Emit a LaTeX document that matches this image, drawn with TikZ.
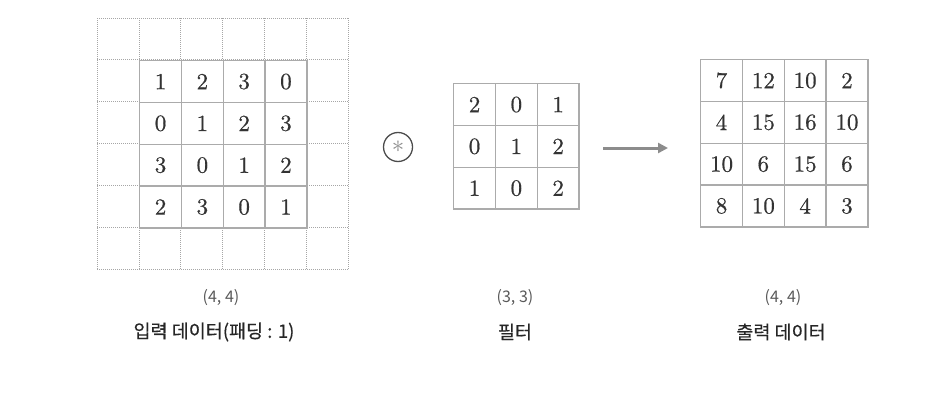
\documentclass[tikz,border=0pt]{standalone}
\usepackage{fontspec}
\newfontfamily\kr{Noto Sans CJK KR}
\newfontfamily\krb[FakeBold=0.5]{Noto Sans CJK KR}
\newfontfamily\numfont[FakeBold=0.6]{lmroman10-regular.otf}
\usetikzlibrary{arrows.meta}
\tikzset{
  cellbox/.style={draw=black!33, line width=1.3pt, minimum size=41.8pt, inner sep=0pt, anchor=north west, font=\numfont\fontsize{23}{23}\selectfont, text=black!80},
  padline/.style={draw=black!35, line width=1pt, dash pattern=on 1pt off 1pt},
  shapelbl/.style={font=\kr\fontsize{16}{16}\selectfont, text=black!65},
  namelbl/.style={font=\krb\fontsize{18.5}{18.5}\selectfont, text=black!85},
  flow/.style={draw=black!45, line width=3pt, -{Triangle[length=10pt,width=10pt]}},
}
\begin{document}
\begin{tikzpicture}[x=1pt,y=-1pt]
\useasboundingbox (0,0) rectangle (950,409);
% padding grid (dotted)
\foreach \i in {0,...,6}{
  \draw[padline] (97.2+41.8*\i,18.2) -- (97.2+41.8*\i,269);
  \draw[padline] (97.2,18.2+41.8*\i) -- (348,18.2+41.8*\i);
}
% input data
\foreach \row [count=\r from 0] in {{1,2,3,0},{0,1,2,3},{3,0,1,2},{2,3,0,1}}{
  \foreach \v [count=\c from 0] in \row{
    \node[cellbox, fill=white] (in-\r-\c) at (139+41.8*\c,60+41.8*\r) {\v};
  }
}
% convolution operator
\node[draw=black!70, line width=1.3pt, circle, minimum size=29pt, inner sep=0pt, text=black!45] (op) at (398,147) {\raisebox{-2pt}{\fontsize{24}{24}\selectfont$\ast$}};
% filter
\foreach \row [count=\r from 0] in {{2,0,1},{0,1,2},{1,0,2}}{
  \foreach \v [count=\c from 0] in \row{
    \node[cellbox] (f-\r-\c) at (453+41.8*\c,83+41.8*\r) {\v};
  }
}
% arrow
\coordinate (a1) at (603,148);
\coordinate (a2) at (668,148);
\draw[flow] (a1) -- (a2);
% output
\foreach \row [count=\r from 0] in {{7,12,10,2},{4,15,16,10},{10,6,15,6},{8,10,4,3}}{
  \foreach \v [count=\c from 0] in \row{
    \node[cellbox] (out-\r-\c) at (700+41.8*\c,59+41.8*\r) {\v};
  }
}
% labels
\node[shapelbl] (s1) at (221,298) {(4, 4)};
\node[namelbl] (n1) at (214,332) {입력 데이터(패딩 : 1)};
\node[shapelbl] (s2) at (515,298) {(3, 3)};
\node[namelbl] (n2) at (515,332) {필터};
\node[shapelbl] (s3) at (783,298) {(4, 4)};
\node[namelbl] (n3) at (781,332) {출력 데이터};
\end{tikzpicture}
\end{document}
